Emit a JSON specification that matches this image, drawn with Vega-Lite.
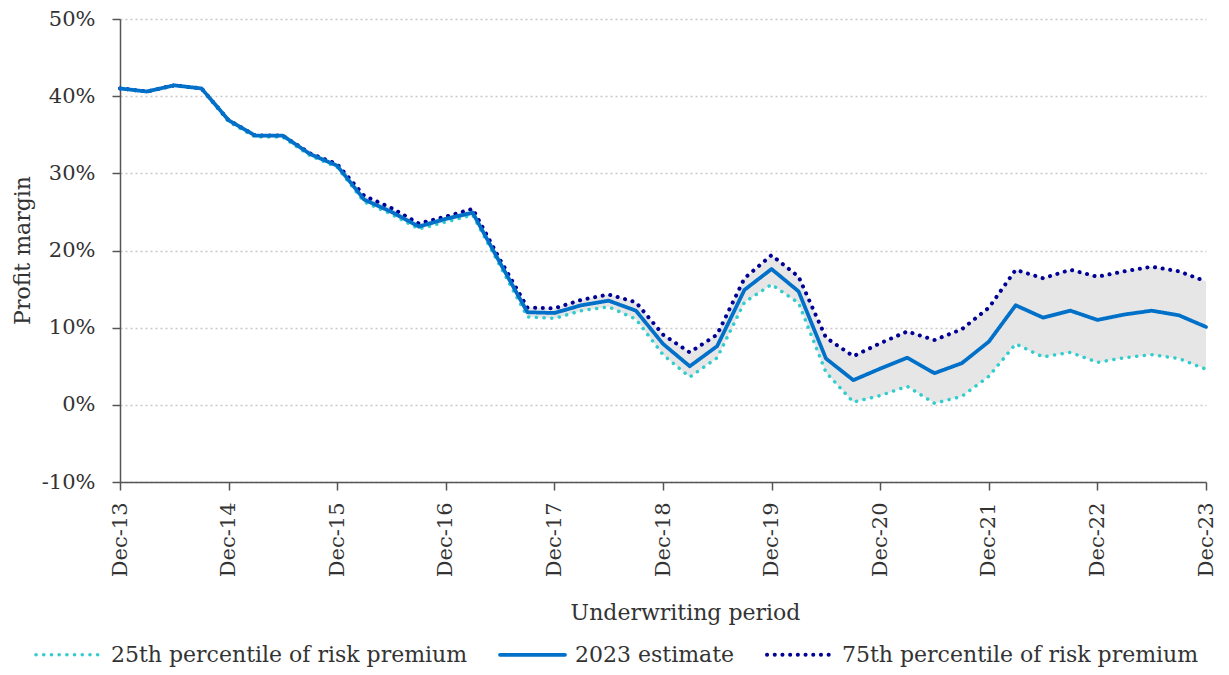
{
  "$schema": "https://vega.github.io/schema/vega-lite/v6.json",
  "width": 1086,
  "height": 463,
  "autosize": {"type": "none"},
  "padding": {"left": 120, "top": 19, "right": 23, "bottom": 193},
  "background": "white",
  "config": {
    "view": {"stroke": null},
    "font": "DejaVu Serif",
    "axis": {
      "labelFont": "DejaVu Serif",
      "titleFont": "DejaVu Serif",
      "labelFontSize": 21,
      "titleFontSize": 22,
      "labelColor": "#333333",
      "titleColor": "#333333",
      "titleFontWeight": "normal",
      "domainColor": "#555555",
      "tickColor": "#555555",
      "domainWidth": 1.5,
      "tickWidth": 1.5,
      "tickSize": 8
    },
    "legend": {
      "labelFont": "DejaVu Serif",
      "labelFontSize": 22,
      "labelColor": "#333333",
      "labelLimit": 600
    }
  },
  "data": {
    "values": [
      {"date": "2013-12-01", "p25": 41.0, "est": 41.0, "p75": 41.0},
      {"date": "2014-03-01", "p25": 40.6, "est": 40.6, "p75": 40.6},
      {"date": "2014-06-01", "p25": 41.4, "est": 41.4, "p75": 41.4},
      {"date": "2014-09-01", "p25": 41.0, "est": 41.0, "p75": 41.0},
      {"date": "2014-12-01", "p25": 36.7, "est": 36.9, "p75": 36.9},
      {"date": "2015-03-01", "p25": 34.7, "est": 34.9, "p75": 34.9},
      {"date": "2015-06-01", "p25": 34.7, "est": 34.9, "p75": 34.9},
      {"date": "2015-09-01", "p25": 32.3, "est": 32.5, "p75": 32.6},
      {"date": "2015-12-01", "p25": 30.8, "est": 31.0, "p75": 31.2},
      {"date": "2016-03-01", "p25": 26.3, "est": 26.6, "p75": 27.1},
      {"date": "2016-06-01", "p25": 24.7, "est": 25.0, "p75": 25.5},
      {"date": "2016-09-01", "p25": 22.8, "est": 23.1, "p75": 23.5},
      {"date": "2016-12-01", "p25": 23.7, "est": 24.1, "p75": 24.4},
      {"date": "2017-03-01", "p25": 24.6, "est": 24.9, "p75": 25.4},
      {"date": "2017-06-01", "p25": 18.0, "est": 18.4, "p75": 18.8},
      {"date": "2017-09-01", "p25": 11.4, "est": 12.0, "p75": 12.6},
      {"date": "2017-12-01", "p25": 11.2, "est": 11.9, "p75": 12.5},
      {"date": "2018-03-01", "p25": 12.2, "est": 12.9, "p75": 13.6},
      {"date": "2018-06-01", "p25": 12.7, "est": 13.5, "p75": 14.3},
      {"date": "2018-09-01", "p25": 11.1, "est": 12.2, "p75": 13.3},
      {"date": "2018-12-01", "p25": 6.5, "est": 7.9, "p75": 9.1},
      {"date": "2019-03-01", "p25": 3.6, "est": 5.0, "p75": 6.8},
      {"date": "2019-06-01", "p25": 6.1, "est": 7.6, "p75": 9.1},
      {"date": "2019-09-01", "p25": 13.3, "est": 14.9, "p75": 16.4},
      {"date": "2019-12-01", "p25": 15.6, "est": 17.6, "p75": 19.4},
      {"date": "2020-03-01", "p25": 13.2, "est": 14.7, "p75": 16.6},
      {"date": "2020-06-01", "p25": 4.2, "est": 6.0, "p75": 8.7},
      {"date": "2020-09-01", "p25": 0.35, "est": 3.2, "p75": 6.3},
      {"date": "2020-12-01", "p25": 1.2, "est": 4.7, "p75": 8.0},
      {"date": "2021-03-01", "p25": 2.4, "est": 6.1, "p75": 9.5},
      {"date": "2021-06-01", "p25": 0.2, "est": 4.1, "p75": 8.4},
      {"date": "2021-09-01", "p25": 1.1, "est": 5.4, "p75": 9.8},
      {"date": "2021-12-01", "p25": 3.7, "est": 8.2, "p75": 12.6},
      {"date": "2022-03-01", "p25": 7.9, "est": 12.9, "p75": 17.5},
      {"date": "2022-06-01", "p25": 6.2, "est": 11.3, "p75": 16.4},
      {"date": "2022-09-01", "p25": 6.8, "est": 12.2, "p75": 17.5},
      {"date": "2022-12-01", "p25": 5.5, "est": 11.0, "p75": 16.6},
      {"date": "2023-03-01", "p25": 6.1, "est": 11.7, "p75": 17.3},
      {"date": "2023-06-01", "p25": 6.5, "est": 12.2, "p75": 17.9},
      {"date": "2023-09-01", "p25": 6.0, "est": 11.6, "p75": 17.3},
      {"date": "2023-12-01", "p25": 4.6, "est": 10.1, "p75": 16.0}
    ]
  },
  "layer": [
    {
      "mark": {"type": "area", "color": "#e6e6e6", "opacity": 1},
      "encoding": {
        "x": {
          "field": "date",
          "type": "temporal",
          "scale": {"type": "utc", "domain": [{"year": 2013, "month": 12, "date": 1, "utc": true}, {"year": 2023, "month": 12, "date": 1, "utc": true}]},
          "axis": {
            "title": "Underwriting period",
            "titleX": 565,
            "titleY": 130,
            "titleAlign": "center",
            "titleBaseline": "middle",
            "values": [
              {"year": 2013, "month": 12, "date": 1, "utc": true},
              {"year": 2014, "month": 12, "date": 1, "utc": true},
              {"year": 2015, "month": 12, "date": 1, "utc": true},
              {"year": 2016, "month": 12, "date": 1, "utc": true},
              {"year": 2017, "month": 12, "date": 1, "utc": true},
              {"year": 2018, "month": 12, "date": 1, "utc": true},
              {"year": 2019, "month": 12, "date": 1, "utc": true},
              {"year": 2020, "month": 12, "date": 1, "utc": true},
              {"year": 2021, "month": 12, "date": 1, "utc": true},
              {"year": 2022, "month": 12, "date": 1, "utc": true},
              {"year": 2023, "month": 12, "date": 1, "utc": true}
            ],
            "labelExpr": "utcFormat(datum.value, '%b-%y')",
            "labelAngle": -90,
            "labelPadding": 12,
            "labelOverlap": false,
            "labelFlush": false,
            "grid": false
          }
        },
        "y": {
          "field": "p25",
          "type": "quantitative",
          "scale": {"domain": [-10, 50], "nice": false, "zero": false},
          "axis": {
            "title": "Profit margin",
            "titleX": -98,
            "titleY": 231,
            "titleAlign": "center",
            "titleBaseline": "middle",
            "titleAngle": -90,
            "values": [-10, 0, 10, 20, 30, 40, 50],
            "labelExpr": "datum.value + '%'",
            "labelPadding": 17,
            "grid": true,
            "gridColor": "#c8c8c8",
            "gridDash": [2, 3],
            "gridWidth": 1.5
          }
        },
        "y2": {"field": "p75"}
      }
    },
    {
      "transform": [{"fold": ["p25", "p75", "est"], "as": ["series", "value"]}],
      "mark": {"type": "line", "strokeCap": "round", "strokeJoin": "round"},
      "encoding": {
        "x": {"field": "date", "type": "temporal"},
        "y": {"field": "value", "type": "quantitative"},
        "color": {
          "field": "series",
          "type": "nominal",
          "scale": {"domain": ["p25", "est", "p75"], "range": ["#33cccc", "#0070c8", "#000096"]},
          "legend": {
            "title": null,
            "orient": "none",
            "direction": "horizontal",
            "legendX": -86,
            "legendY": 601,
            "symbolType": "stroke",
            "symbolSize": 4225,
            "symbolStrokeWidth": 3.5,
            "labelOffset": 8,
            "columnPadding": 24,
            "labelLimit": 600,
            "encode": {"symbols": {"update": {"strokeCap": {"value": "round"}}}},
            "labelExpr": "datum.label == 'p25' ? '25th percentile of risk premium' : datum.label == 'est' ? '2023 estimate' : '75th percentile of risk premium'"
          }
        },
        "strokeDash": {
          "field": "series",
          "type": "nominal",
          "scale": {"domain": ["p25", "est", "p75"], "range": [[0.1, 7.6], [1, 0], [0.1, 7.6]]},
          "legend": {
            "title": null,
            "orient": "none",
            "direction": "horizontal",
            "legendX": -86,
            "legendY": 601,
            "symbolType": "stroke",
            "symbolSize": 4225,
            "symbolStrokeWidth": 3.5,
            "labelOffset": 8,
            "columnPadding": 24,
            "labelLimit": 600,
            "encode": {"symbols": {"update": {"strokeCap": {"value": "round"}}}},
            "labelExpr": "datum.label == 'p25' ? '25th percentile of risk premium' : datum.label == 'est' ? '2023 estimate' : '75th percentile of risk premium'"
          }
        },
        "strokeWidth": {
          "field": "series",
          "type": "nominal",
          "scale": {"domain": ["p25", "est", "p75"], "range": [3.5, 4, 3.5]},
          "legend": null
        }
      }
    }
  ]
}
